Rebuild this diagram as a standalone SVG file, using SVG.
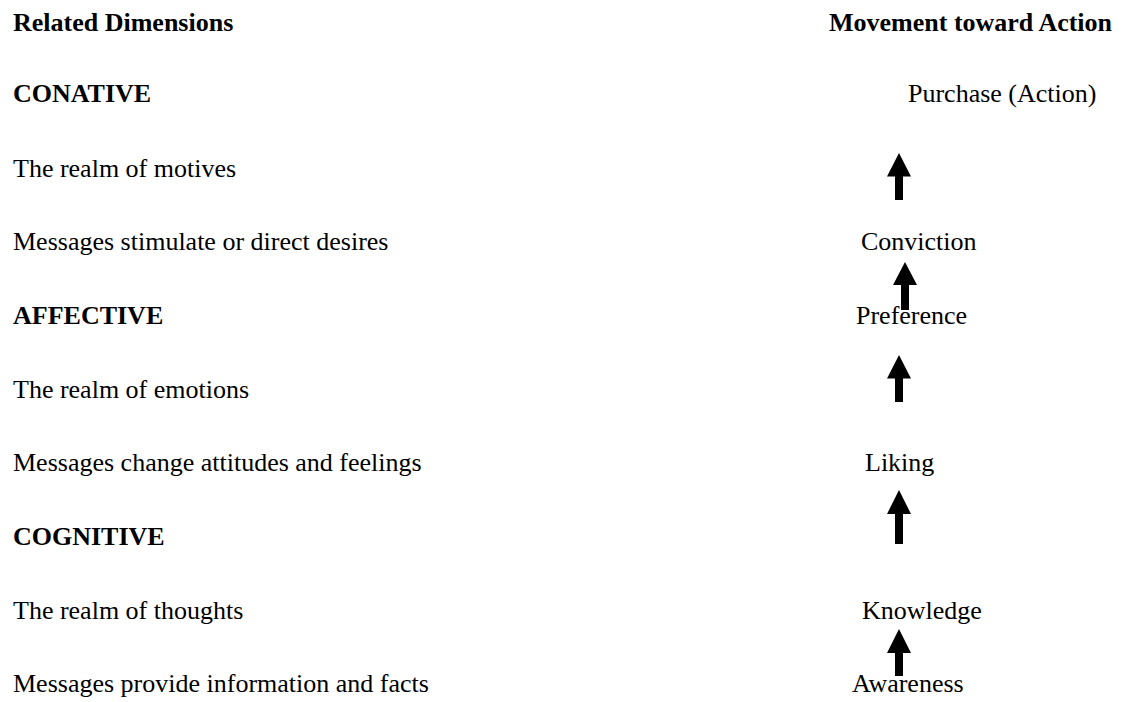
<svg xmlns="http://www.w3.org/2000/svg" width="1124" height="702" viewBox="0 0 1124 702">
<style>
text{font-family:"Liberation Serif","Times New Roman",serif;font-size:26px;fill:#000}
.b{font-weight:bold}
.arr{fill:#000}
</style>
<defs>
<path id="up" d="M0,0 L12,23.5 L4,23.5 L4,47 L-4,47 L-4,23.5 L-12,23.5 Z"/>
</defs>
<rect width="1124" height="702" fill="#fff"/>
<g id="left">
<text class="b" x="13" y="31">Related Dimensions</text>
<text class="b" x="13" y="102">CONATIVE</text>
<text x="13" y="177">The realm of motives</text>
<text x="13" y="250">Messages stimulate or direct desires</text>
<text class="b" x="13" y="324">AFFECTIVE</text>
<text x="13" y="398">The realm of emotions</text>
<text x="13" y="471">Messages change attitudes and feelings</text>
<text class="b" x="13" y="545">COGNITIVE</text>
<text x="13" y="619">The realm of thoughts</text>
<text x="13" y="692">Messages provide information and facts</text>
</g>
<g id="header-right"><text class="b" x="829" y="31">Movement toward Action</text></g>
<g id="purchase"><text x="908" y="102">Purchase (Action)</text></g>
<g id="conviction"><text x="861" y="250">Conviction</text></g>
<g id="preference"><text x="856" y="324">Preference</text></g>
<g id="liking"><text x="865" y="471">Liking</text></g>
<g id="knowledge"><text x="862" y="619">Knowledge</text></g>
<g id="awareness"><text x="852" y="692">Awareness</text></g>
<g id="connectors" class="arr">
<use href="#up" x="899" y="153"/>
<path d="M905,262 L917,285 L909,285 L909,310 L901,310 L901,285 L893,285 Z"/>
<use href="#up" x="899" y="355"/>
<path d="M899,490 L911,514 L903,514 L903,544 L895,544 L895,514 L887,514 Z"/>
<path d="M899,629 L911,653 L903,653 L903,676 L895,676 L895,653 L887,653 Z"/>
</g>
</svg>
